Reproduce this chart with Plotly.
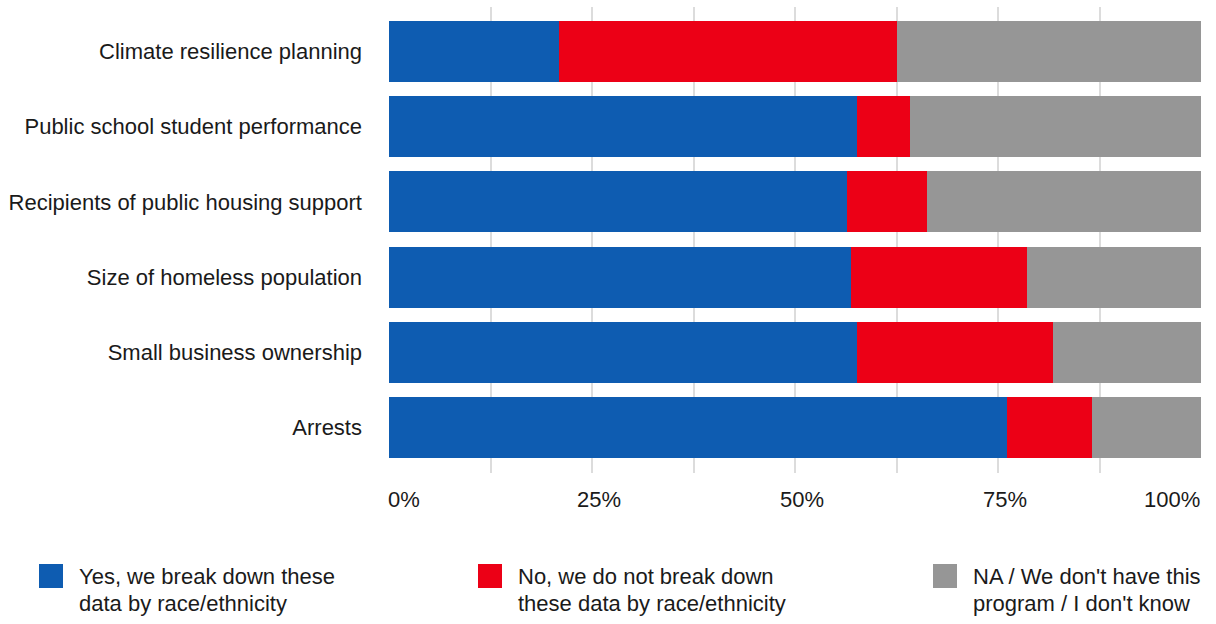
import plotly.graph_objects as go

# ---- data ----
categories = [
    "Climate resilience planning",
    "Public school student performance",
    "Recipients of public housing support",
    "Size of homeless population",
    "Small business ownership",
    "Arrests",
]
yes_vals = [20.9, 57.6, 56.4, 56.9, 57.6, 76.1]
no_vals = [41.7, 6.6, 9.9, 21.7, 24.2, 10.5]
na_vals = [37.4, 35.8, 33.7, 21.4, 18.2, 13.4]
series_names = [
    "Yes, we break down these<br>data by race/ethnicity",
    "No, we do not break down<br>these data by race/ethnicity",
    "NA / We don't have this<br>program / I don't know",
]
tick_vals = [0, 25, 50, 75, 100]
tick_text = ["0%", "25%", "50%", "75%", "100%"]

# ---- style ----
colors = ["#0e5cb1", "#ec0016", "#969696"]
FONT = "Liberation Sans, Arial, sans-serif"
FS = 22
TXT = "#1a1a1a"
W, H = 1216, 624
ML, MR, MT, MB = 389, 15, 7, 151
PW, PH = W - ML - MR, H - MT - MB


def pxx(px):
    return (px - ML) / PW


def pxy(py):
    return (H - MB - py) / PH


fig = go.Figure()
for vals, name, col in zip([yes_vals, no_vals, na_vals], series_names, colors):
    fig.add_trace(go.Bar(
        y=categories, x=vals, name=name.replace("<br>", " "), orientation="h",
        marker=dict(color=col, line=dict(width=0)), showlegend=False,
    ))

n = len(categories)
fig.update_layout(
    width=W, height=H,
    margin=dict(l=ML, r=MR, t=MT, b=MB, pad=0, autoexpand=False),
    barmode="stack", bargap=0.19,
    plot_bgcolor="white", paper_bgcolor="white",
    font=dict(family=FONT, size=FS, color=TXT),
    xaxis=dict(range=[0, 100], dtick=12.5, tick0=0, showgrid=True,
               gridcolor="#dcdcdc", gridwidth=2, zeroline=False,
               showticklabels=False, ticks="", showline=False, fixedrange=True),
    yaxis=dict(type="category", categoryorder="array", categoryarray=categories,
               range=[n - 1 + 0.605, -0.592], showgrid=False, zeroline=False,
               ticks="", showline=False, ticklabelstandoff=26, automargin=False,
               tickfont=dict(family=FONT, size=FS, color=TXT)),
)

# x tick labels
annots = []
for i, (v, t) in enumerate(zip(tick_vals, tick_text)):
    if i == 0:
        anchor, shift = "left", -3
    elif i == len(tick_vals) - 1:
        anchor, shift = "right", 1
    else:
        anchor, shift = "center", 7
    annots.append(dict(x=v, xref="x", y=0, yref="paper", yanchor="top",
                       xanchor=anchor, xshift=shift, yshift=-12, text=t,
                       showarrow=False, font=dict(family=FONT, size=FS, color=TXT)))

# legend (one text line per annotation to keep the tight line spacing)
leg_x = [39, 478, 933]
line_y = [576, 603]
shapes = []
for lx, name, col in zip(leg_x, series_names, colors):
    shapes.append(dict(type="rect", xref="paper", yref="paper",
                       x0=pxx(lx), x1=pxx(lx + 24), y0=pxy(588), y1=pxy(564),
                       fillcolor=col, line=dict(width=0)))
    for ly, part in zip(line_y, name.split("<br>")):
        annots.append(dict(x=pxx(lx + 38), xref="paper", y=pxy(ly), yref="paper",
                           xanchor="left", yanchor="middle", align="left", text=part,
                           showarrow=False, font=dict(family=FONT, size=FS, color=TXT)))

fig.update_layout(annotations=annots, shapes=shapes)

fig.write_html("out.html", config={"displayModeBar": False},
               post_script="document.body.style.margin='0';document.body.style.overflow='hidden';")
